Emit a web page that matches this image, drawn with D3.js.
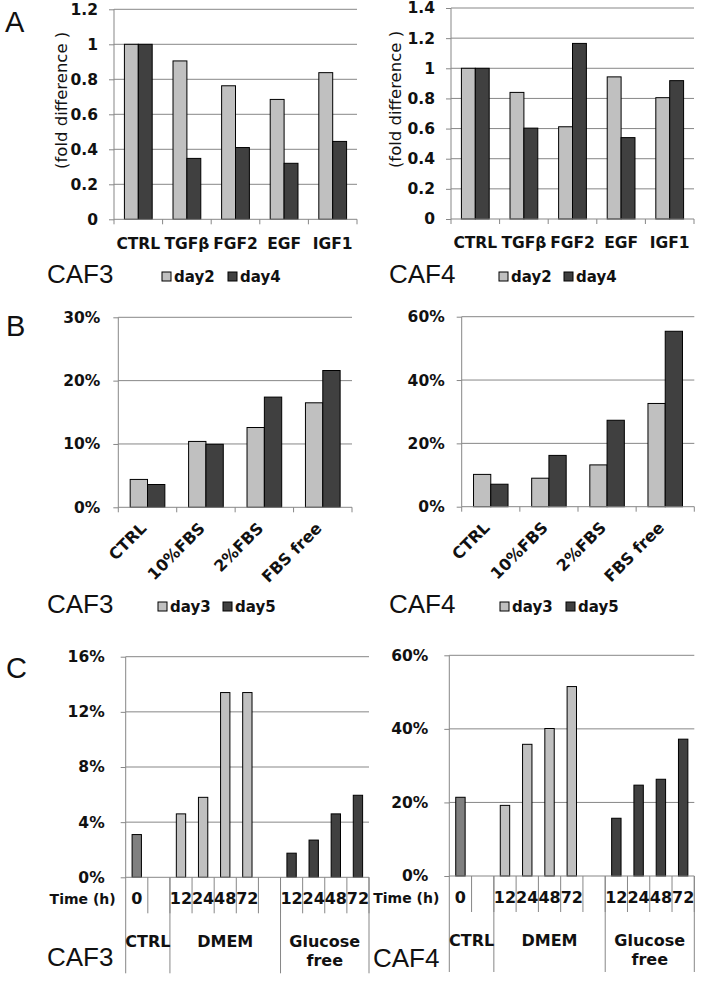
<!DOCTYPE html>
<html><head><meta charset="utf-8">
<script src="https://cdn.jsdelivr.net/npm/d3@7"></script>
<style>
body{margin:0;background:#fff;}
text{font-family:"DejaVu Sans",Verdana,sans-serif;fill:#111;}
.lbl{font-weight:bold;font-size:15px;}
.big{font-family:"Liberation Sans",Arial,sans-serif;font-size:26px;fill:#111;}
.letter{font-family:"Liberation Sans",Arial,sans-serif;font-size:29px;fill:#111;}
</style></head>
<body>
<script>
// ---------- data ----------
const catsA = ["CTRL","TGFβ","FGF2","EGF","IGF1"];
const caf3A_day2 = [1.0, 0.905, 0.763, 0.685, 0.838];
const caf3A_day4 = [1.0, 0.348, 0.41, 0.32, 0.445];
const caf4A_day2 = [1.0, 0.84, 0.612, 0.943, 0.805];
const caf4A_day4 = [1.0, 0.603, 1.165, 0.54, 0.918];
const ticksA3 = [0, 0.2, 0.4, 0.6, 0.8, 1, 1.2];
const ticksA4 = [0, 0.2, 0.4, 0.6, 0.8, 1, 1.2, 1.4];
const seriesA = ["day2","day4"];

const catsB = ["CTRL","10%FBS","2%FBS","FBS free"];
const caf3B_day3 = [4.4, 10.4, 12.6, 16.5];
const caf3B_day5 = [3.6, 9.95, 17.4, 21.6];
const caf4B_day3 = [10.2, 9.0, 13.2, 32.6];
const caf4B_day5 = [7.1, 16.2, 27.3, 55.4];
const ticksB3 = [0, 10, 20, 30];
const ticksB4 = [0, 20, 40, 60];
const seriesB = ["day3","day5"];

const slotsC = ["0","","12","24","48","72","","12","24","48","72"];
const slotGroupC = [0,0,1,1,1,1,1,2,2,2,2];
const groupsC = [["CTRL"],["DMEM"],["Glucose","free"]];
const caf3C = [3.1, null, 4.6, 5.8, 13.4, 13.4, null, 1.75, 2.7, 4.6, 5.95];
const caf4C = [21.4, null, 19.2, 35.8, 40.1, 51.5, null, 15.7, 24.7, 26.3, 37.2];
const ticksC3 = [0, 4, 8, 12, 16];
const ticksC4 = [0, 20, 40, 60];

const light = "#c0c0c0", dark = "#404040", mid = "#808080", grid = "#878787";

const svg = d3.select("body").append("svg").attr("width",705).attr("height",983);

function yAxis(g, y, x0, x1, ticks, fmt, pad){
  g.append("g").selectAll("line").data(ticks.filter(t=>t>0)).join("line")
    .attr("x1",x0).attr("x2",x1).attr("y1",d=>y(d)).attr("y2",d=>y(d))
    .attr("stroke",grid).attr("stroke-width",1);
  const ax = g.append("g").attr("transform",`translate(${x0},0)`)
    .call(d3.axisLeft(y).tickValues(ticks).tickSize(5).tickSizeOuter(0).tickPadding(pad).tickFormat(fmt));
  ax.select(".domain").remove();
  ax.selectAll(".tick line").attr("stroke",grid);
  ax.selectAll(".tick text").attr("class","lbl").style("font-size","15.5px").attr("fill","#111");
}

function grouped(cfg){
  const g = svg.append("g");
  const x = d3.scaleBand().domain(d3.range(cfg.cats.length)).range([cfg.x0,cfg.x1]).paddingInner(0).paddingOuter(0);
  const y = d3.scaleLinear().domain([0,cfg.max]).range([cfg.yb,cfg.yt]);
  yAxis(g, y, cfg.x0, cfg.x1, cfg.ticks, cfg.fmt, cfg.pad);
  const w = x.bandwidth()/cfg.ratio;
  const xs = d3.scaleBand().domain(d3.range(cfg.series.length)).range([-w*cfg.series.length/2, w*cfg.series.length/2]);
  cfg.series.forEach((s,j)=>{
    g.append("g").selectAll("rect").data(s.values).join("rect")
      .attr("x",(d,i)=>x(i)+x.bandwidth()/2+xs(j)).attr("width",xs.bandwidth())
      .attr("y",d=>y(d)).attr("height",d=>y(0)-y(d))
      .attr("fill",s.color).attr("stroke","#000").attr("stroke-width",1);
  });
  g.append("line").attr("x1",cfg.x0).attr("x2",cfg.x0).attr("y1",cfg.yt).attr("y2",cfg.yb).attr("stroke",grid);
  g.append("line").attr("x1",cfg.x0).attr("x2",cfg.x1).attr("y1",cfg.yb).attr("y2",cfg.yb).attr("stroke",grid);
  const bounds = d3.range(cfg.cats.length).map(i=>x(i)).concat([cfg.x1]);
  g.append("g").selectAll("line").data(bounds).join("line")
    .attr("x1",d=>d).attr("x2",d=>d).attr("y1",cfg.yb).attr("y2",cfg.yb+5).attr("stroke",grid);
  if(cfg.rotate){
    g.append("g").selectAll("text").data(cfg.cats).join("text").attr("class","lbl")
      .style("font-size","16px")
      .attr("text-anchor","end")
      .attr("transform",(d,i)=>`translate(${x(i)+x.bandwidth()/2},${cfg.yb+22}) rotate(-45)`)
      .text(d=>d);
  } else {
    g.append("g").selectAll("text").data(cfg.cats).join("text").attr("class","lbl")
      .style("font-size","15.5px")
      .attr("text-anchor","middle").attr("x",(d,i)=>x(i)+x.bandwidth()/2).attr("y",cfg.labY)
      .text(d=>d);
  }
  if(cfg.ytitle){
    g.append("text").attr("transform",`translate(${cfg.ytx},${(cfg.yt+cfg.yb)/2 - 14}) rotate(-90)`)
      .attr("text-anchor","middle").style("font-size","16.5px").text(cfg.ytitle);
  }
  g.append("text").attr("class","big").attr("x",cfg.cafX).attr("y",cfg.cafY).text(cfg.caf);
  cfg.series.forEach((s,j)=>{
    g.append("rect").attr("x",cfg.legX[j]).attr("y",cfg.cafY-11).attr("width",9).attr("height",9)
      .attr("fill",s.color).attr("stroke","#000").attr("stroke-width",1);
    g.append("text").attr("class","lbl").style("font-size","15px").attr("x",cfg.legX[j]+12).attr("y",cfg.cafY-1).text(s.name);
  });
}

grouped({cats:catsA, x0:114, x1:357, yt:9.3, yb:219.3, max:1.2, ticks:ticksA3, fmt:d=>d3.format("")(d), pad:11,
  ratio:3.5, labY:249, ytitle:"(fold difference )", ytx:67,
  series:[{name:seriesA[0],values:caf3A_day2,color:light},{name:seriesA[1],values:caf3A_day4,color:dark}],
  caf:"CAF3", cafX:47, cafY:283, legX:[162,228]});
grouped({cats:catsA, x0:451, x1:694, yt:8, yb:219, max:1.4, ticks:ticksA4, fmt:d=>d3.format("")(d), pad:11,
  ratio:3.5, labY:248, ytitle:"(fold difference )", ytx:401,
  series:[{name:seriesA[0],values:caf4A_day2,color:light},{name:seriesA[1],values:caf4A_day4,color:dark}],
  caf:"CAF4", cafX:389, cafY:283, legX:[499,564]});
grouped({cats:catsB, x0:118.3, x1:352, yt:317.3, yb:507.3, max:30, ticks:ticksB3, fmt:d=>d+"%", pad:13,
  ratio:3.37, rotate:true,
  series:[{name:seriesB[0],values:caf3B_day3,color:light},{name:seriesB[1],values:caf3B_day5,color:dark}],
  caf:"CAF3", cafX:47, cafY:613, legX:[158,223]});
grouped({cats:catsB, x0:461.7, x1:694.3, yt:316.7, yb:506.7, max:60, ticks:ticksB4, fmt:d=>d+"%", pad:12,
  ratio:3.37, rotate:true,
  series:[{name:seriesB[0],values:caf4B_day3,color:light},{name:seriesB[1],values:caf4B_day5,color:dark}],
  caf:"CAF4", cafX:389, cafY:613, legX:[500,566]});

function timeChart(cfg){
  const g = svg.append("g");
  const x = d3.scaleBand().domain(d3.range(slotsC.length)).range([cfg.x0,cfg.x1]).paddingInner(0).paddingOuter(0);
  const y = d3.scaleLinear().domain([0,cfg.max]).range([cfg.yb,cfg.yt]);
  yAxis(g, y, cfg.x0, cfg.x1, cfg.ticks, d=>d+"%", cfg.pad);
  const colors = [mid, light, dark];
  const w = x.bandwidth()/2.37;
  g.append("g").selectAll("rect").data(cfg.values.map((v,i)=>({v,i})).filter(d=>d.v!=null)).join("rect")
    .attr("x",d=>x(d.i)+x.bandwidth()/2-w/2).attr("width",w)
    .attr("y",d=>y(d.v)).attr("height",d=>y(0)-y(d.v))
    .attr("fill",d=>colors[slotGroupC[d.i]]).attr("stroke","#000").attr("stroke-width",1);
  g.append("line").attr("x1",cfg.x0).attr("x2",cfg.x1).attr("y1",cfg.yb).attr("y2",cfg.yb).attr("stroke",grid);
  // y axis line runs down through the category rows
  g.append("line").attr("x1",cfg.x0).attr("x2",cfg.x0).attr("y1",cfg.yt).attr("y2",cfg.yb+96).attr("stroke",grid);
  const bounds = d3.range(1,slotsC.length).map(i=>x(i)).concat([cfg.x1]);
  g.append("g").selectAll("line").data(bounds).join("line")
    .attr("x1",d=>d).attr("x2",d=>d).attr("y1",cfg.yb).attr("y2",cfg.yb+36).attr("stroke",grid);
  const gb = d3.range(1,slotsC.length).filter(i=>slotGroupC[i]!==slotGroupC[i-1]).map(i=>x(i)).concat([cfg.x1]);
  g.append("g").selectAll("line").data(gb).join("line")
    .attr("x1",d=>d).attr("x2",d=>d).attr("y1",cfg.yb).attr("y2",cfg.yb+96).attr("stroke",grid);
  g.append("g").selectAll("text").data(slotsC.map((s,i)=>({s,i}))).join("text").attr("class","lbl")
    .style("font-size","16px")
    .attr("text-anchor","middle").attr("x",d=>x(d.i)+x.bandwidth()/2).attr("y",cfg.yb+27).text(d=>d.s);
  g.append("text").attr("class","lbl").style("font-size","14px").attr("text-anchor","end")
    .attr("x",cfg.x0-10).attr("y",cfg.yb+27).text("Time (h)");
  groupsC.forEach((lines,k)=>{
    const idx = d3.range(slotsC.length).filter(i=>slotGroupC[i]===k);
    const cx = (x(idx[0]) + x(idx[idx.length-1]) + x.bandwidth())/2;
    lines.forEach((t,l)=>{
      g.append("text").attr("class","lbl").style("font-size","16px").attr("text-anchor","middle")
        .attr("x",cx).attr("y",cfg.yb+70+l*19).text(t);
    });
  });
  g.append("text").attr("class","big").attr("x",cfg.cafX).attr("y",cfg.cafY).text(cfg.caf);
}

timeChart({x0:125.7, x1:369, yt:656.7, yb:877.3, max:16, ticks:ticksC3, pad:16, values:caf3C, caf:"CAF3", cafX:47, cafY:966});
timeChart({x0:449.3, x1:694.3, yt:655.3, yb:876, max:60, ticks:ticksC4, pad:16, values:caf4C, caf:"CAF4", cafX:373, cafY:967});

svg.append("text").attr("class","letter").attr("x",5).attr("y",32).text("A");
svg.append("text").attr("class","letter").attr("x",6).attr("y",336).text("B");
svg.append("text").attr("class","letter").attr("x",6).attr("y",678).text("C");
</script>
</body></html>
